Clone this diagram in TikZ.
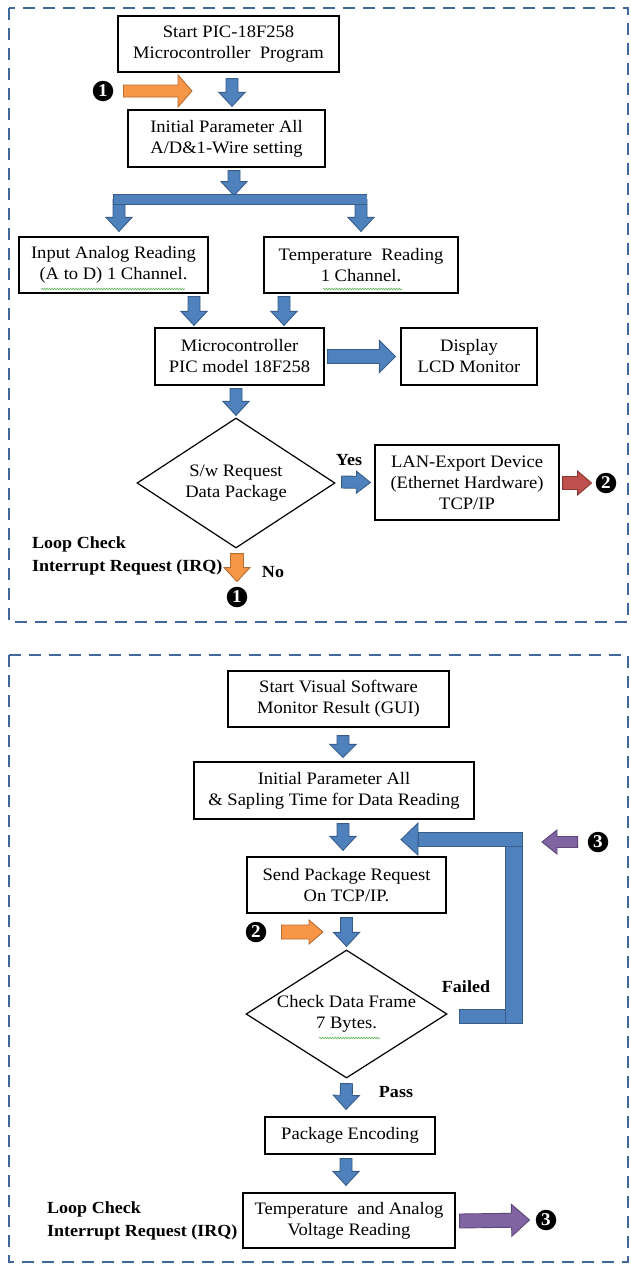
\documentclass[tikz,border=0pt]{standalone}
\usepackage{fontspec}
\setmainfont{Liberation Serif}[FakeStretch=1.06]
\usetikzlibrary{calc,shapes.geometric,decorations.pathmorphing}
\definecolor{bfill}{HTML}{4F81BD}
\definecolor{bline}{HTML}{385D8A}
\definecolor{ofill}{HTML}{F79646}
\definecolor{oline}{HTML}{B66D31}
\definecolor{rfill}{HTML}{C0504D}
\definecolor{rline}{HTML}{8C3836}
\definecolor{pfill}{HTML}{8064A2}
\definecolor{pline}{HTML}{5C4776}
\definecolor{frm}{HTML}{41689A}
\definecolor{squig}{HTML}{5DB65D}
\newcommand\fw{6pt}\newcommand\fhw{13pt}\newcommand\fh{14pt}
\tikzset{
  dims/.code args={#1/#2/#3}{\def\fw{#1}\def\fhw{#2}\def\fh{#3}},
  fat/.style={line width=0.9pt, line join=miter, to path={
     ($(\tikztostart)!\fw!90:(\tikztotarget)$) --
     ($(\tikztotarget)!\fh!(\tikztostart)!\fw!-90:(\tikztostart)$) --
     ($(\tikztotarget)!\fh!(\tikztostart)!\fhw!-90:(\tikztostart)$) --
     (\tikztotarget) --
     ($(\tikztotarget)!\fh!(\tikztostart)!\fhw!90:(\tikztostart)$) --
     ($(\tikztotarget)!\fh!(\tikztostart)!\fw!90:(\tikztostart)$) --
     ($(\tikztostart)!\fw!-90:(\tikztotarget)$) -- cycle}},
  barrow/.style={fat, fill=bfill, draw=bline},
  oarrow/.style={fat, fill=ofill, draw=oline},
  rarrow/.style={fat, fill=rfill, draw=rline},
  parrow/.style={fat, fill=pfill, draw=pline},
  bshape/.style={fill=bfill, draw=bline, line width=0.9pt, line join=miter},
  box/.style={draw, line width=1.2pt, align=center, inner sep=2pt,
    font=\fontsize{17.5}{21}\selectfont},
  dia/.style={diamond, draw, line width=1.2pt, align=center, inner sep=0pt,
    font=\fontsize{17.5}{21}\selectfont},
  lab/.style={font=\bfseries\fontsize{17}{22.5}\selectfont, align=left, inner sep=0pt},
  num/.style={circle, fill=black, text=white, minimum size=20.5pt, inner sep=0pt,
    font=\bfseries\fontsize{18}{18}\selectfont},
  frame/.style={draw=frm, line width=2.2pt, dash pattern=on 12pt off 8pt},
  wavy/.style={draw=squig, line width=0.6pt, decorate,
    decoration={snake, amplitude=0.8pt, segment length=2.6pt}}
}
\begin{document}
\begin{tikzpicture}[x=1pt,y=-1pt]
\useasboundingbox (0,0) rectangle (630,1267);
\fill[white] (0,0) rectangle (630,1267);
% ---------- frames ----------
\draw[frame] (9,8) rectangle (628,622);
\draw[frame] (9,655) rectangle (628,1262);
% ---------- top flow ----------
\node[box, minimum width=221pt, minimum height=56pt] (b1) at (228.5,44) {Start PIC-18F258\\Microcontroller\ \ Program};
\node[box, minimum width=197pt, minimum height=57pt] (b2) at (226.5,138.5) {Initial Parameter All\\A/D\&1-Wire setting};
\node[box, minimum width=189pt, minimum height=56pt] (b3) at (113.5,265) {Input Analog Reading\\(A to D) 1 Channel.};
\node[box, minimum width=194pt, minimum height=56pt] (b4) at (361,265) {Temperature\ \ Reading\\1 Channel.};
\node[box, minimum width=169pt, minimum height=57pt] (b5) at (239.5,356.5) {Microcontroller\\PIC model 18F258};
\node[box, minimum width=136pt, minimum height=57pt] (b6) at (469,356.5) {Display\\LCD Monitor};
\node[dia, aspect=1.52, minimum width=198pt, minimum height=130pt] (d1) at (236,483) {S/w Request\\Data Package};
\node[box, minimum width=184pt, minimum height=75pt] (b7) at (467,482.5) {LAN-Export Device\\(Ethernet Hardware)\\TCP/IP};
\node[num] (n1) at (103,91) {1};
\node[num] (n2) at (606,483) {2};
\node[num] (n1b) at (237,597) {1};
\node[lab] (yes) at (349,460) {Yes};
\node[lab] (no) at (273,572) {No};
\node[lab, anchor=west] (lc1) at (32,556) {Loop Check\\Interrupt Request (IRQ)};
% spell-check marks
\draw[wavy] (41,289) -- (185,289);
\draw[wavy] (323,289) -- (402,289);
% arrows top
\coordinate (a1s) at ($(b1.south)+(3.5,6)$);
\coordinate (a1e) at ($(b2.north)+(5.5,-3)$);
\draw[barrow, dims=6pt/13pt/14pt] (a1s) to (a1e);
\coordinate (o1s) at ($(n1.east)+(10,0)$);
\coordinate (o1e) at (192,91);
\draw[oarrow, dims=6pt/16pt/14pt] (o1s) to (o1e);
\coordinate (a2s) at ($(b2.south)+(7.5,3)$);
\coordinate (a2e) at ($(b2.south)+(7.5,28)$);
\draw[barrow, dims=6pt/13pt/14pt] (a2s) to (a2e);
\coordinate (barL) at (119,199.5);
\coordinate (barR) at (361,199.5);
\coordinate (l1e) at ($(b3.north)+(5.5,-5)$);
\coordinate (l2e) at ($(b4.north)+(0,-5)$);
\draw[barrow, dims=6pt/13pt/14pt] (barL) to (l1e);
\draw[barrow, dims=6pt/13pt/14pt] (barR) to (l2e);
\draw[line width=10.2pt, bline] ($(barL)+(-6.4,0)$) -- ($(barR)+(6.4,0)$);
\draw[line width=8.4pt, bfill] ($(barL)+(-5.5,0)$) -- ($(barR)+(5.5,0)$);
\coordinate (a3s) at ($(b3.south)+(80.5,3)$);
\coordinate (a3e) at ($(b5.north)+(-45.5,-2)$);
\draw[barrow, dims=6pt/13pt/14pt] (a3s) to (a3e);
\coordinate (a4s) at ($(b4.south)+(-77,3)$);
\coordinate (a4e) at ($(b5.north)+(44.5,-2)$);
\draw[barrow, dims=6pt/13pt/14pt] (a4s) to (a4e);
\coordinate (a5s) at ($(b5.east)+(3,0)$);
\coordinate (a5e) at ($(b6.west)+(-5,0)$);
\draw[barrow, dims=7pt/16pt/16pt] (a5s) to (a5e);
\coordinate (a6s) at ($(b5.south)+(-3.5,3)$);
\coordinate (a6e) at ($(d1.north)+(0,-2)$);
\draw[barrow, dims=6pt/13pt/14pt] (a6s) to (a6e);
\coordinate (ys) at ($(d1.east)+(6,-1)$);
\coordinate (ye) at ($(b7.west)+(-4,0)$);
\draw[barrow, dims=6pt/11pt/14pt] (ys) to (ye);
\coordinate (rs) at ($(b7.east)+(3,0.5)$);
\coordinate (re) at ($(n2.west)+(-4,0)$);
\draw[rarrow, dims=6.5pt/12pt/14pt] (rs) to (re);
\coordinate (os) at ($(d1.south)+(1,5)$);
\coordinate (oe) at ($(n1b.north)+(0,-5)$);
\draw[oarrow, dims=6.5pt/13pt/14pt] (os) to (oe);
% ---------- bottom flow ----------
\node[box, minimum width=221pt, minimum height=56pt] (c1) at (338.5,699) {Start Visual Software\\Monitor Result (GUI)};
\node[box, minimum width=280pt, minimum height=57pt] (c2) at (334,790.5) {Initial Parameter All\\\& Sapling Time for Data Reading};
\node[box, minimum width=199pt, minimum height=56pt] (c3) at (346.5,885) {Send Package Request\\On TCP/IP.};
\node[dia, aspect=1.57, minimum width=201pt, minimum height=128pt] (d2) at (346.5,1014) {Check Data Frame\\7 Bytes.};
\node[box, minimum width=170pt, minimum height=37pt] (c4) at (350,1135.5) {Package Encoding};
\node[box, minimum width=212pt, minimum height=55pt] (c5) at (349,1220.5) {Temperature\ \ and Analog\\Voltage Reading};
\node[num] (n3) at (598,842) {3};
\node[num] (n2b) at (256,932) {2};
\node[num] (n3b) at (546,1220) {3};
\node[lab] (failed) at (466,987) {Failed};
\node[lab] (pass) at (396,1092) {Pass};
\node[lab, anchor=west] (lc2) at (47,1221) {Loop Check\\Interrupt Request (IRQ)};
\draw[wavy] (319,1038) -- (380,1038);
\coordinate (b1s) at ($(c1.south)+(4.5,8)$);
\coordinate (b1e) at ($(c2.north)+(9,-4)$);
\draw[barrow, dims=6pt/13pt/13pt] (b1s) to (b1e);
\coordinate (b2s) at ($(c2.south)+(9,4)$);
\coordinate (b2e) at ($(c3.north)+(-3.5,-6)$);
\draw[barrow, dims=6pt/13pt/14pt] (b2s) to (b2e);
% loop back (Failed): three overlapping bars and a head
\coordinate (lpA) at ($(d2.east)+(12,-5)$);   % bottom bar, upper left corner (459,1009)
\coordinate (lpB) at (522,1023);
\coordinate (lpC) at (505,832);
\coordinate (lpD) at (418,832);
\coordinate (lpE) at (522,846);
\coordinate (lptip) at ($(c2.south)+(67,20)$); % (401,839)
\filldraw[bshape] (lpA) rectangle (lpB);
\filldraw[bshape] (lpC) rectangle (lpB);
\filldraw[bshape] (lpD) rectangle (lpE);
\filldraw[bshape] (418,823) -- (lptip) -- (418,855) -- cycle;
\coordinate (p1s) at ($(n3.west)+(-10,0)$);
\coordinate (p1e) at (542,842);
\draw[parrow, dims=5.5pt/12pt/15pt] (p1s) to (p1e);
\coordinate (c3s) at ($(c3.south)+(0,4)$);
\coordinate (c3e) at ($(d2.north)+(0,-3)$);
\draw[barrow, dims=6pt/13pt/14pt] (c3s) to (c3e);
\coordinate (o2s) at ($(n2b.east)+(15,0)$);
\coordinate (o2e) at (323,932);
\draw[oarrow, dims=7pt/12pt/14pt] (o2s) to (o2e);
\coordinate (d2s) at ($(d2.south)+(0,5)$);
\coordinate (d2e) at ($(c4.north)+(-4,-7)$);
\draw[barrow, dims=6pt/13pt/14pt] (d2s) to (d2e);
\coordinate (c4s) at ($(c4.south)+(-4,4)$);
\coordinate (c4e) at ($(c5.north)+(-3,-7)$);
\draw[barrow, dims=6pt/13pt/14pt] (c4s) to (c4e);
\coordinate (p2s) at ($(c5.east)+(4,0.5)$);
\coordinate (p2e) at ($(n3b.west)+(-6,0)$);
\draw[parrow, dims=7pt/16pt/18pt] (p2s) to (p2e);
\end{tikzpicture}
\end{document}
